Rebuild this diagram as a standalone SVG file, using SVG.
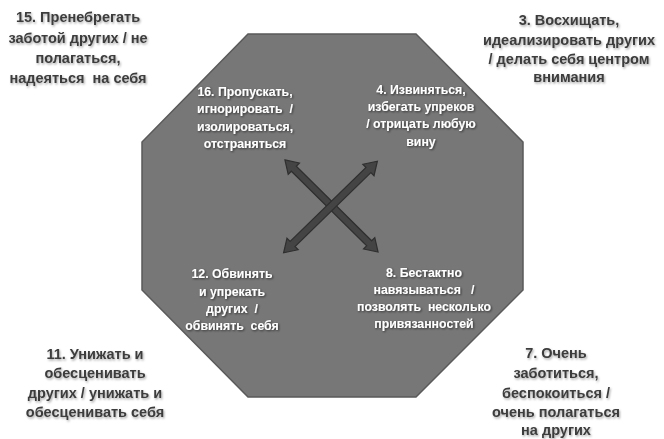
<svg xmlns="http://www.w3.org/2000/svg" width="664" height="439" viewBox="0 0 664 439">
  <defs>
    <style>
      text { white-space: pre; }
      .outer { font-family: "Liberation Sans", Arial, sans-serif; font-weight: bold; font-size: 14.5px; fill: #3c3c3c; text-anchor: middle; filter: url(#softShadow); }
      .inner { font-family: "Liberation Sans", Arial, sans-serif; font-weight: bold; font-size: 12.3px; fill: #ffffff; text-anchor: middle; filter: url(#darkShadow); }
      .octagon { fill: #777777; stroke: #5a5a5a; stroke-width: 1.5; }
      .arrow { fill: #444444; stroke: #2f2f2f; stroke-width: 1.2; stroke-linejoin: miter; }
    </style>
    <filter id="softShadow" x="-10%" y="-20%" width="120%" height="150%">
      <feDropShadow dx="1" dy="1.5" stdDeviation="1" flood-color="#000000" flood-opacity="0.35"/>
    </filter>
    <filter id="darkShadow" x="-10%" y="-20%" width="120%" height="150%">
      <feDropShadow dx="1" dy="1" stdDeviation="0.8" flood-color="#000000" flood-opacity="0.6"/>
    </filter>
    <!-- double-headed block arrow laid along the x axis, centred on the origin -->
    <path id="dblArrow" d="M -65.5 0 L -53 -8 L -53 -3.5 L 53 -3.5 L 53 -8 L 65.5 0 L 53 8 L 53 3.5 L -53 3.5 L -53 8 Z"/>
  </defs>

  <rect width="664" height="439" fill="#ffffff"/>

  <g id="octagon">
    <polygon class="octagon" points="248,34 416,34 523,142 523,290 416,397 248,397 142,290 142,142"/>
  </g>

  <g id="connectors">
    <use href="#dblArrow" class="arrow" transform="translate(331.5 206) rotate(44.7)"/>
    <use href="#dblArrow" class="arrow" transform="translate(330.5 207) rotate(-44.3)"/>
  </g>

  <g id="node-15">
    <text class="outer" x="78" y="22">15. Пренебрегать</text>
    <text class="outer" x="78" y="43">заботой других / не</text>
    <text class="outer" x="78" y="63">полагаться,</text>
    <text class="outer" x="78" y="83">надеяться  на себя</text>
  </g>

  <g id="node-3">
    <text class="outer" x="569" y="25">3. Восхищать,</text>
    <text class="outer" x="569" y="45">идеализировать других</text>
    <text class="outer" x="569" y="64">/ делать себя центром</text>
    <text class="outer" x="569" y="82">внимания</text>
  </g>

  <g id="node-16">
    <text class="inner" x="245" y="96">16. Пропускать,</text>
    <text class="inner" x="245" y="113">игнорировать  /</text>
    <text class="inner" x="245" y="131">изолироваться,</text>
    <text class="inner" x="245" y="148">отстраняться</text>
  </g>

  <g id="node-4">
    <text class="inner" x="421" y="94">4. Извиняться,</text>
    <text class="inner" x="421" y="111">избегать упреков</text>
    <text class="inner" x="421" y="128">/ отрицать любую</text>
    <text class="inner" x="421" y="146">вину</text>
  </g>

  <g id="node-12">
    <text class="inner" x="232" y="278">12. Обвинять</text>
    <text class="inner" x="232" y="296">и упрекать</text>
    <text class="inner" x="232" y="313">других  /</text>
    <text class="inner" x="232" y="330">обвинять  себя</text>
  </g>

  <g id="node-8">
    <text class="inner" x="424" y="277">8. Бестактно</text>
    <text class="inner" x="424" y="294">навязываться   /</text>
    <text class="inner" x="424" y="311">позволять  несколько</text>
    <text class="inner" x="424" y="328">привязанностей</text>
  </g>

  <g id="node-11">
    <text class="outer" x="95" y="359">11. Унижать и</text>
    <text class="outer" x="95" y="378">обесценивать</text>
    <text class="outer" x="95" y="398">других / унижать и</text>
    <text class="outer" x="95" y="417">обесценивать себя</text>
  </g>

  <g id="node-7">
    <text class="outer" x="556" y="358">7. Очень</text>
    <text class="outer" x="556" y="378">заботиться,</text>
    <text class="outer" x="556" y="398">беспокоиться /</text>
    <text class="outer" x="556" y="417">очень полагаться</text>
    <text class="outer" x="556" y="435">на других</text>
  </g>
</svg>
